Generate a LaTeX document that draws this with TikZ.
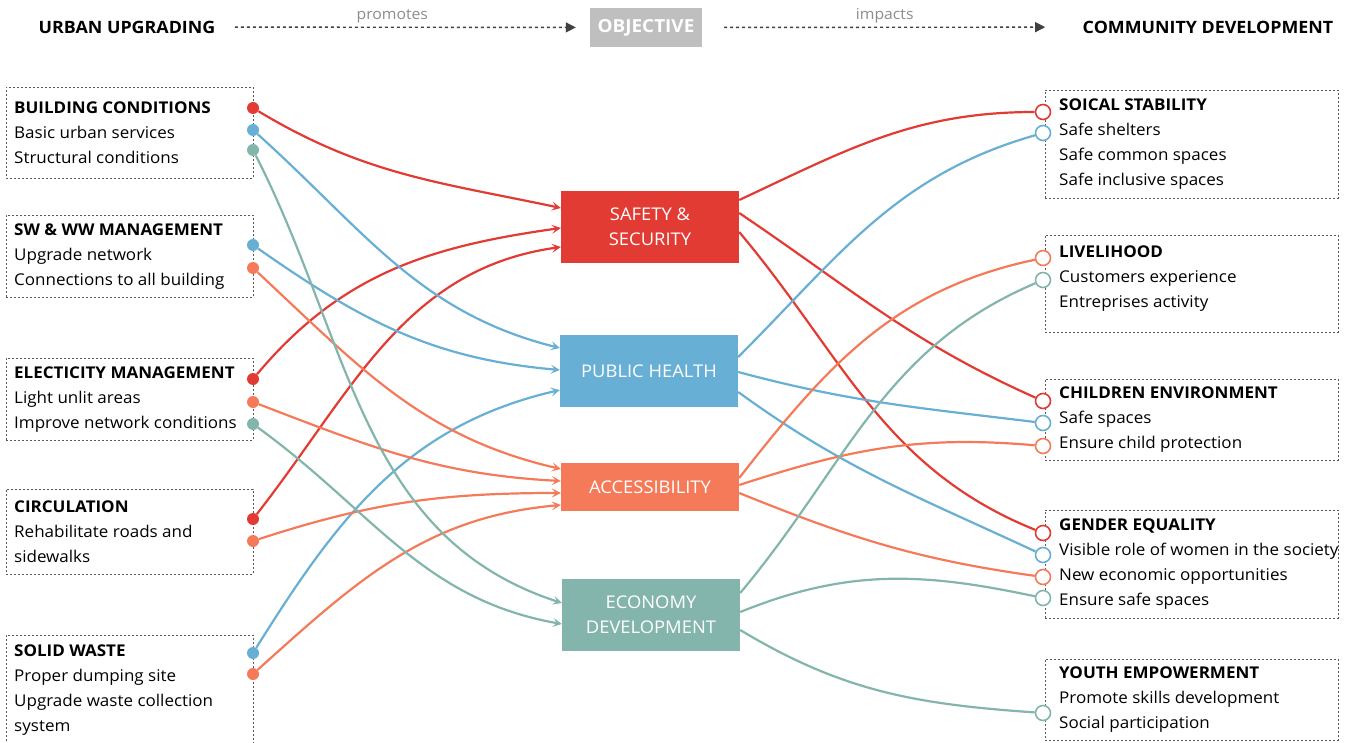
\documentclass[tikz,border=0pt]{standalone}
\usepackage{fontspec}
\setmainfont{Open Sans}[FakeStretch=1.05]
\usetikzlibrary{arrows.meta,positioning}
\definecolor{cred}{HTML}{E23B34}
\definecolor{cblue}{HTML}{67AFD4}
\definecolor{corange}{HTML}{F47A5A}
\definecolor{cteal}{HTML}{83B5AC}
\tikzset{
  lbox/.style={draw=black!65,dash pattern=on 2pt off 2pt,line width=0.9pt,
    minimum width=247pt,anchor=north west,inner sep=0pt},
  rbox/.style={lbox,minimum width=293pt},
  btext/.style={align=left,inner sep=0pt,font=\fontsize{16.2}{25}\selectfont},
  goalbox/.style={fill=#1,text=white,minimum width=178pt,minimum height=72pt,
    align=center,inner sep=0pt,font=\fontsize{17.5}{25}\selectfont},
  srcdot/.style={circle,fill=#1,minimum size=12pt,inner sep=0pt},
  tgtring/.style={circle,draw=#1,fill=white,line width=1.6pt,minimum size=15pt,inner sep=0pt},
  linkline/.style={draw=#1,line width=2.2pt},
  feedline/.style={draw=#1,line width=2.2pt,-{Stealth[length=9pt,width=9pt,inset=4pt]}},
  hdr/.style={font=\bfseries\fontsize{17}{20}\selectfont},
  hdrarrow/.style={black!75,line width=1.4pt,dash pattern=on 3pt off 3pt,
    -{Triangle[length=10pt,width=10pt]}},
  hdrlbl/.style={black!45,font=\fontsize{15}{16}\selectfont,inner sep=1pt}
}
\begin{document}
\begin{tikzpicture}[x=1pt,y=1pt]
  \useasboundingbox (0,0) rectangle (1351,-743);

  % header
  \node[hdr] (uu) at (127,-27) {URBAN UPGRADING};
  \node[fill=black!25,text=white,minimum width=112pt,minimum height=39pt,inner sep=0pt,font=\bfseries\fontsize{18}{20}\selectfont] (obj) at (646,-27.5) {OBJECTIVE};
  \node[hdr] (cd) at (1208,-27) {COMMUNITY DEVELOPMENT};
  \draw[hdrarrow,shorten <=16pt,shorten >=14pt] (uu) -- (obj) node[hdrlbl,midway,above=2pt,xshift=-12pt] {promotes};
  \draw[hdrarrow,shorten <=22pt,shorten >=34pt] (obj) -- (cd) node[hdrlbl,midway,above=2pt,xshift=-6pt] {impacts};

  % urban upgrading boxes
  \node[lbox,minimum height=91pt] (bc) at (6,-87) {};
  \node[btext,right=8pt of bc.west] (bc-t) {\textbf{BUILDING CONDITIONS}\\Basic urban services\\Structural conditions};
  \node[lbox,minimum height=82pt] (sw) at (6,-215) {};
  \node[btext,right=8pt of sw.west] (sw-t) {\textbf{SW \& WW MANAGEMENT}\\Upgrade network\\Connections to all building};
  \node[lbox,minimum height=82pt] (el) at (6,-358) {};
  \node[btext,right=8pt of el.west] (el-t) {\textbf{ELECTICITY MANAGEMENT}\\Light unlit areas\\Improve network conditions};
  \node[lbox,minimum height=85pt] (ci) at (6,-489) {};
  \node[btext,right=8pt of ci.west] (ci-t) {\textbf{CIRCULATION}\\Rehabilitate roads and\\sidewalks};
  \node[lbox,minimum height=110pt] (so) at (6,-635) {};
  \node[btext,right=8pt of so.west] (so-t) {\textbf{SOLID WASTE}\\Proper dumping site\\Upgrade waste collection\\system};

  % community development boxes
  \node[rbox,minimum height=108pt] (ss) at (1045,-90) {};
  \node[btext,right=14pt of ss.west] (ss-t) {\textbf{SOICAL STABILITY}\\Safe shelters\\Safe common spaces\\Safe inclusive spaces};
  \node[rbox,minimum height=97pt] (lh) at (1045,-235) {};
  \node[btext,right=14pt of lh.west,yshift=5pt] (lh-t) {\textbf{LIVELIHOOD}\\Customers experience\\Entreprises activity};
  \node[rbox,minimum height=81pt] (ce) at (1045,-379) {};
  \node[btext,right=14pt of ce.west] (ce-t) {\textbf{CHILDREN ENVIRONMENT}\\Safe spaces\\Ensure child protection};
  \node[rbox,minimum height=108pt] (ge) at (1045,-510) {};
  \node[btext,right=14pt of ge.west] (ge-t) {\textbf{GENDER EQUALITY}\\Visible role of women in the society\\New economic opportunities\\Ensure safe spaces};
  \node[rbox,minimum height=81pt] (ye) at (1045,-659) {};
  \node[btext,right=14pt of ye.west] (ye-t) {\textbf{YOUTH EMPOWERMENT}\\Promote skills development\\Social participation};

  % objectives
  \node[goalbox=cred] (saf) at (650,-227) {SAFETY \&\\SECURITY};
  \node[goalbox=cblue] (hea) at (649,-371) {PUBLIC HEALTH};
  \node[goalbox=corange,minimum height=48pt] (acc) at (650,-487) {ACCESSIBILITY};
  \node[goalbox=cteal] (eco) at (651,-615) {ECONOMY\\DEVELOPMENT};

  % source dots
  \node[srcdot=cred] (bcR) at (253,-108) {};
  \node[srcdot=cblue] (bcB) at (253,-130) {};
  \node[srcdot=cteal] (bcT) at (253,-150) {};
  \node[srcdot=cblue] (swB) at (253,-245) {};
  \node[srcdot=corange] (swO) at (253,-268) {};
  \node[srcdot=cred] (elR) at (253,-379) {};
  \node[srcdot=corange] (elO) at (253,-402) {};
  \node[srcdot=cteal] (elT) at (253,-424) {};
  \node[srcdot=cred] (ciR) at (253,-519) {};
  \node[srcdot=corange] (ciO) at (253,-541) {};
  \node[srcdot=cblue] (soB) at (253,-653) {};
  \node[srcdot=corange] (soO) at (253,-674) {};

  % target rings
  \node[tgtring=cred] (ssR) at (1043,-112) {};
  \node[tgtring=cblue] (ssB) at (1043,-133) {};
  \node[tgtring=corange] (lhO) at (1043,-258) {};
  \node[tgtring=cteal] (lhT) at (1043,-280) {};
  \node[tgtring=cred] (ceR) at (1043,-401) {};
  \node[tgtring=cblue] (ceB) at (1043,-423) {};
  \node[tgtring=corange] (ceO) at (1043,-446) {};
  \node[tgtring=cred] (geR) at (1043,-533) {};
  \node[tgtring=cblue] (geB) at (1043,-555) {};
  \node[tgtring=corange] (geO) at (1043,-577) {};
  \node[tgtring=cteal] (geT) at (1043,-598) {};
  \node[tgtring=cteal] (yeT) at (1043,-713) {};

  % upgrading -> objective
  \draw[feedline=cred] (bcR) to[out=-31,in=168] ([yshift=19pt]saf.west);
  \draw[feedline=cred] (elR) to[out=50,in=188] ([yshift=-1pt]saf.west);
  \draw[feedline=cred] (ciR) to[out=52,in=188] ([yshift=-20pt]saf.west);
  \draw[feedline=cblue] (bcB) to[out=-42,in=166] ([yshift=23pt]hea.west);
  \draw[feedline=cblue] (swB) to[out=-35,in=175] ([yshift=1pt]hea.west);
  \draw[feedline=cblue] (soB) to[out=58,in=193] ([yshift=-19pt]hea.west);
  \draw[feedline=corange] (swO) to[out=-43,in=167] ([yshift=18pt]acc.west);
  \draw[feedline=corange] (elO) to[out=-21,in=177] ([yshift=6pt]acc.west);
  \draw[feedline=corange] (ciO) to[out=18,in=180] ([yshift=-6pt]acc.west);
  \draw[feedline=corange] (soO) to[out=42,in=185] ([yshift=-18pt]acc.west);
  \draw[feedline=cteal] (bcT) to[out=-63,in=162] ([yshift=12pt]eco.west);
  \draw[feedline=cteal] (elT) to[out=-36,in=170] ([yshift=-9pt]eco.west);

  % objective -> community development
  \draw[linkline=cred] ([yshift=27pt]saf.east) to[out=25,in=180] (ssR);
  \draw[linkline=cred] ([yshift=14pt]saf.east) to[out=-34,in=156] (ceR);
  \draw[linkline=cred] ([yshift=-5pt]saf.east) to[out=-50,in=158] (geR);
  \draw[linkline=cblue] ([yshift=14pt]hea.east) to[out=45,in=196] (ssB);
  \draw[linkline=cblue] ([yshift=-1pt]hea.east) to[out=-15,in=173] (ceB);
  \draw[linkline=cblue] ([yshift=-21pt]hea.east) to[out=-36,in=155] (geB);
  \draw[linkline=corange] ([yshift=9pt]acc.east) to[out=52,in=192] (lhO);
  \draw[linkline=corange] ([yshift=2pt]acc.east) to[out=18,in=175] (ceO);
  \draw[linkline=corange] ([yshift=-6pt]acc.east) to[out=-22,in=172] (geO);
  \draw[linkline=cteal] ([yshift=22pt]eco.east) to[out=50,in=203] (lhT);
  \draw[linkline=cteal] ([yshift=3pt]eco.east) to[out=22,in=168] (geT);
  \draw[linkline=cteal] ([yshift=-15pt]eco.east) to[out=-31,in=176] (yeT);
\end{tikzpicture}
\end{document}
